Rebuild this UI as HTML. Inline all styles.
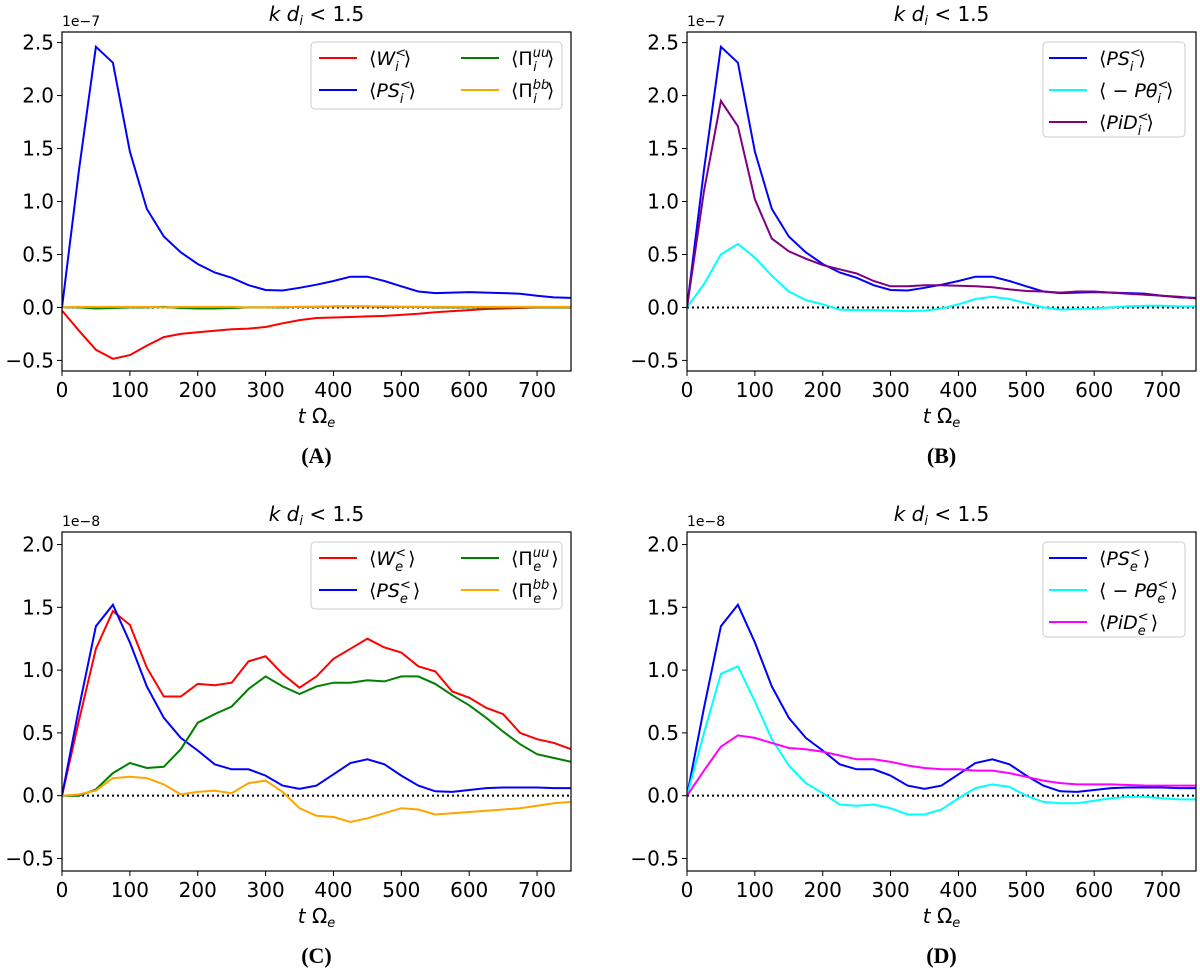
<!DOCTYPE html>
<html><head><meta charset="utf-8"><style>
body{margin:0;background:#fff;}
svg text{font-family:"DejaVu Sans","Liberation Sans",sans-serif;}
</style></head><body>
<svg id="fig" width="1200" height="973" xmlns="http://www.w3.org/2000/svg"></svg>
<script>
const times=[0,25,50,75,100,125,150,175,200,225,250,275,300,325,350,375,400,425,450,475,500,525,550,575,600,625,650,675,700,725,750];
const xTicks=[0,100,200,300,400,500,600,700];
const yTicksI=[-0.5,0.0,0.5,1.0,1.5,2.0,2.5];
const yTicksE=[-0.5,0.0,0.5,1.0,1.5,2.0];
const psI=[0,1.3,2.46,2.31,1.47,0.93,0.67,0.52,0.41,0.33,0.28,0.21,0.165,0.16,0.185,0.215,0.25,0.29,0.29,0.25,0.2,0.15,0.135,0.14,0.145,0.14,0.135,0.13,0.11,0.095,0.09];
const wI=[-0.03,-0.22,-0.40,-0.485,-0.45,-0.36,-0.28,-0.25,-0.235,-0.22,-0.205,-0.2,-0.185,-0.15,-0.12,-0.1,-0.095,-0.09,-0.085,-0.08,-0.07,-0.06,-0.045,-0.035,-0.025,-0.015,-0.01,-0.005,0,0,0];
const piuuI=[0,0,-0.01,-0.005,0,0,0.005,-0.005,-0.01,-0.01,-0.005,0,0,0,0.005,0.005,0.01,0.01,0.01,0.005,0.005,0.005,0,0,0,0,0,0,0,0,0];
const pibbI=[0,0.005,0.005,0.005,0.005,0.005,0,0.005,0.005,0.005,0.005,0,0,0.005,0.005,0.005,0.01,0.01,0.01,0.01,0.005,0.005,0.005,0.005,0.005,0.005,0.005,0.005,0.005,0.005,0.005];
const pthI=[0,0.22,0.5,0.6,0.47,0.3,0.15,0.07,0.03,-0.02,-0.025,-0.025,-0.03,-0.035,-0.03,-0.01,0.03,0.08,0.1,0.08,0.04,0.0,-0.02,-0.015,-0.01,0.0,0.01,0.015,0.015,0.01,0.01];
const pidI=[0,1.1,1.95,1.71,1.02,0.65,0.53,0.46,0.4,0.36,0.32,0.25,0.2,0.2,0.21,0.21,0.205,0.2,0.19,0.17,0.155,0.15,0.14,0.15,0.15,0.14,0.13,0.12,0.11,0.1,0.085];
const wE=[0,0.6,1.17,1.47,1.36,1.02,0.79,0.79,0.89,0.88,0.9,1.07,1.11,0.97,0.86,0.95,1.09,1.17,1.25,1.18,1.14,1.03,0.99,0.83,0.78,0.7,0.65,0.5,0.45,0.42,0.37];
const psE=[0,0.7,1.35,1.52,1.22,0.87,0.62,0.46,0.36,0.25,0.21,0.21,0.16,0.08,0.055,0.08,0.17,0.26,0.29,0.25,0.16,0.08,0.035,0.03,0.045,0.06,0.065,0.065,0.065,0.06,0.06];
const piuuE=[0,0,0.05,0.18,0.26,0.22,0.23,0.37,0.58,0.65,0.71,0.85,0.95,0.87,0.81,0.87,0.9,0.9,0.92,0.91,0.95,0.95,0.89,0.8,0.72,0.62,0.51,0.41,0.33,0.3,0.27];
const pibbE=[0,0.01,0.04,0.14,0.15,0.14,0.09,0.01,0.03,0.04,0.02,0.1,0.12,0.03,-0.1,-0.16,-0.17,-0.21,-0.18,-0.14,-0.1,-0.11,-0.15,-0.14,-0.13,-0.12,-0.11,-0.1,-0.08,-0.06,-0.05];
const pthE=[0,0.5,0.97,1.03,0.75,0.45,0.24,0.1,0.02,-0.07,-0.08,-0.07,-0.1,-0.15,-0.15,-0.11,-0.02,0.06,0.09,0.07,0.0,-0.05,-0.06,-0.06,-0.04,-0.02,-0.01,-0.01,-0.02,-0.03,-0.03];
const pidE=[0,0.2,0.39,0.48,0.46,0.42,0.38,0.37,0.35,0.32,0.29,0.29,0.27,0.24,0.22,0.21,0.21,0.2,0.2,0.18,0.15,0.12,0.1,0.09,0.09,0.09,0.085,0.08,0.08,0.08,0.08];

const NS="http://www.w3.org/2000/svg";
const svg=document.getElementById('fig');
function mk(tag,attrs,parent,txt){const e=document.createElementNS(NS,tag);for(const k in attrs)e.setAttribute(k,attrs[k]);if(txt!==undefined)e.innerHTML=txt;(parent||svg).appendChild(e);return e;}

function panel(id,ox,oy,ymax,ymin,yticks,expo,series,legend,letter){
  const L=ox+62,R=ox+571,T=oy+32,B=oy+371;
  const xs=v=>L+(v-0)/(750-0)*(R-L);
  const ys=v=>B-(v-ymin)/(ymax-ymin)*(B-T);
  const g=mk('g',{});
  
  
  const clipId='clip'+id;
  const cp=mk('clipPath',{id:clipId},g);mk('rect',{x:L,y:T,width:R-L,height:B-T},cp);
  const z=mk('line',{x1:L,x2:R,y1:ys(0),y2:ys(0),stroke:'#000','stroke-width':2,'stroke-dasharray':'2,3'},g);
  
  
  series.forEach(s=>{
    const d=times.map((t,i)=>(i?'L':'M')+xs(t).toFixed(1)+','+ys(s.v[i]).toFixed(1)).join('');
    const p=mk('path',{d:d,fill:'none',stroke:s.c,'stroke-width':2,'clip-path':'url(#'+clipId+')'},g);
    
    
  });
  const fr=mk('rect',{x:L,y:T,width:R-L,height:B-T,fill:'none',stroke:'#000','stroke-width':1.2},g);
  
  
  xTicks.forEach(t=>{
    mk('line',{x1:xs(t),x2:xs(t),y1:B,y2:B+5,stroke:'#000'},g);
    const tx=mk('text',{x:xs(t),y:B+26,'font-size':20,'text-anchor':'middle'},g,String(t));
    
    
  });
  yticks.forEach(t=>{
    mk('line',{x1:L-5,x2:L,y1:ys(t),y2:ys(t),stroke:'#000'},g);
    const tx=mk('text',{x:L-8,y:ys(t)+7,'font-size':20,'text-anchor':'end'},g,(t<0?'\u2212':'')+Math.abs(t).toFixed(1));
    
    
  });
  const ex=mk('text',{x:L,y:T-6,'font-size':14},g,expo);
  
  
  const ti=mk('text',{x:(L+R)/2,y:oy+21,'font-size':20,'text-anchor':'middle'},g,'<tspan font-style="italic">k d</tspan><tspan font-style="italic" font-size="13" dy="4">i</tspan><tspan dy="-4"> &lt; 1.5</tspan>');
  
  
  const xl=mk('text',{x:(L+R)/2,y:B+52,'font-size':20,'text-anchor':'middle'},g,'<tspan font-style="italic">t</tspan> Ω<tspan font-style="italic" font-size="13" dy="4">e</tspan>');
  
  
  const pl=mk('text',{x:(L+R)/2,y:oy+463,'font-size':22,'font-weight':'bold','text-anchor':'middle',style:'font-family:"Liberation Serif",serif'},g,'('+letter+')');
  
  
  const lb=mk('rect',{x:ox+legend.x,y:oy+legend.y,width:legend.w,height:legend.h,rx:4,fill:'#fff',stroke:'#ccc'},g);
  
  
  legend.items.forEach((it,i)=>{
    const cx=ox+legend.x+it.col, cy=oy+legend.y+16+it.row*32;
    mk('line',{x1:cx,x2:cx+38,y1:cy,y2:cy,stroke:it.c,'stroke-width':2},g);
    const lt=mk('text',{x:cx+50,y:cy+7,'font-size':19},g,it.label);
    
    
  });
}
function lab(base,sub,sup){return '⟨<tspan font-style="italic">'+base+'</tspan><tspan font-size="13" dy="-8">'+sup+'</tspan><tspan font-size="13" font-style="italic" dx="-11" dy="14">'+sub+'</tspan><tspan dx="5" dy="-6">⟩</tspan>';}
function labPi(sub,sup){return '⟨Π<tspan font-size="13" font-style="italic" dy="-8">'+sup+'</tspan><tspan font-size="13" font-style="italic" dx="-16" dy="14">'+sub+'</tspan><tspan dx="10" dy="-6">⟩</tspan>';}
function labN(base,sub){return '⟨ − <tspan font-style="italic">'+base+'</tspan><tspan font-size="13" dy="-8">&lt;</tspan><tspan font-size="13" font-style="italic" dx="-11" dy="14">'+sub+'</tspan><tspan dx="5" dy="-6">⟩</tspan>';}

const leg4=s=>({x:311,y:42,w:251,h:67,items:[
 {col:8,row:0,c:'red',label:lab('W',s,'&lt;')},
 {col:8,row:1,c:'blue',label:lab('PS',s,'&lt;')},
 {col:150,row:0,c:'green',label:labPi(s,'uu')},
 {col:150,row:1,c:'orange',label:labPi(s,'bb')}]});
const leg3=(s,c3)=>({x:418,y:42,w:142,h:95,items:[
 {col:6,row:0,c:'blue',label:lab('PS',s,'&lt;')},
 {col:6,row:1,c:'cyan',label:labN('Pθ',s)},
 {col:6,row:2,c:c3,label:lab('PiD',s,'&lt;')}]});

panel('a',0,0,2.6,-0.6,yTicksI,'1e−7',[{n:'w-i',c:'red',v:wI},{n:'pi-uu-i',c:'green',v:piuuI},{n:'pi-bb-i',c:'orange',v:pibbI},{n:'ps-i',c:'blue',v:psI}],leg4('i'),'A');
panel('b',625,0,2.6,-0.6,yTicksI,'1e−7',[{n:'ps-i',c:'blue',v:psI},{n:'ptheta-i',c:'cyan',v:pthI},{n:'pid-i',c:'purple',v:pidI}],leg3('i','purple'),'B');
panel('c',0,500,2.1,-0.6,yTicksE,'1e−8',[{n:'w-e',c:'red',v:wE},{n:'ps-e',c:'blue',v:psE},{n:'pi-uu-e',c:'green',v:piuuE},{n:'pi-bb-e',c:'orange',v:pibbE}],leg4('e'),'C');
panel('d',625,500,2.1,-0.6,yTicksE,'1e−8',[{n:'ps-e',c:'blue',v:psE},{n:'ptheta-e',c:'cyan',v:pthE},{n:'pid-e',c:'magenta',v:pidE}],leg3('e','magenta'),'D');
</script>
</body></html>
